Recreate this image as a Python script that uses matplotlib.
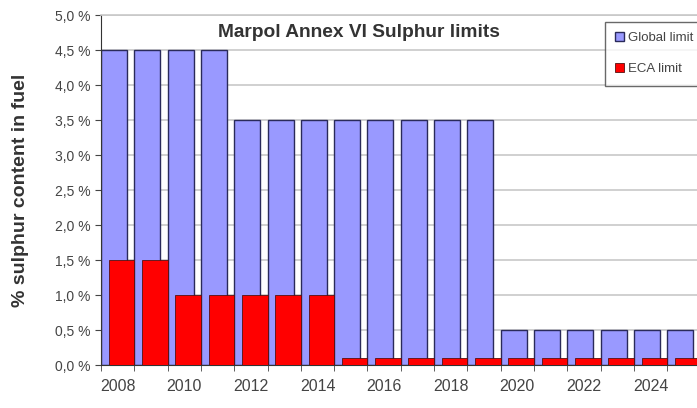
import numpy as np
import matplotlib
matplotlib.use('Agg')
import matplotlib.pyplot as plt
from matplotlib.ticker import FuncFormatter

# Datos
years = list(range(2008, 2026))
global_limit = [4.5, 4.5, 4.5, 4.5, 3.5, 3.5, 3.5, 3.5, 3.5, 3.5, 3.5, 3.5,
                0.5, 0.5, 0.5, 0.5, 0.5, 0.5]
eca_limit = [1.5, 1.5, 1.0, 1.0, 1.0, 1.0, 1.0, 0.1, 0.1, 0.1, 0.1, 0.1,
             0.1, 0.1, 0.1, 0.1, 0.1, 0.1]
tick_years = [2008, 2010, 2012, 2014, 2016, 2018, 2020, 2022, 2024]

plt.rcParams['font.family'] = ['Liberation Sans', 'DejaVu Sans']

fig = plt.figure(figsize=(6.97, 4.08), dpi=100)
ax = fig.add_axes([0.145, 0.105, 0.86, 0.858])

x = np.arange(len(years))
ax.bar(x - 0.5, global_limit, width=0.78, align='edge', color='#9999ff',
       edgecolor='#2a2a5a', linewidth=1.0, label='Global limit', zorder=2)
ax.bar(x - 0.27, eca_limit, width=0.77, align='edge', color='#ff0000',
       edgecolor='#551111', linewidth=0.6, label='ECA limit', zorder=3)

ax.set_xlim(-0.5, len(years) - 0.5)
ax.set_ylim(0, 5.0)
ax.set_yticks(np.arange(0, 5.01, 0.5))
ax.yaxis.set_major_formatter(FuncFormatter(lambda v, p: f'{v:.1f} %'.replace('.', ',')))
ax.yaxis.grid(True, color='#c8c8c8', linewidth=1.2, zorder=0)
ax.set_axisbelow(True)

ax.set_xticks([years.index(y) for y in tick_years])
ax.set_xticklabels([str(y) for y in tick_years])
ax.set_xticks(x - 0.5, minor=True)
ax.tick_params(axis='x', which='major', length=0, pad=10, labelsize=11.5, labelcolor='#444444')
ax.tick_params(axis='x', which='minor', length=4, color='#444444')
ax.tick_params(axis='y', length=4, labelsize=10, labelcolor='#444444', color='#444444')

ax.spines['right'].set_visible(False)
ax.spines['top'].set_color('#c8c8c8')
ax.spines['top'].set_linewidth(1.2)
ax.spines['left'].set_color('#333333')
ax.spines['bottom'].set_color('#333333')

ax.set_ylabel('% sulphur content in fuel', fontsize=14, fontweight='bold', color='#333333', labelpad=19)
ax.text(0.43, 0.975, 'Marpol Annex VI Sulphur limits', transform=ax.transAxes,
        ha='center', va='top', fontsize=13.8, fontweight='bold', color='#333333')

leg = ax.legend(loc='upper left', bbox_to_anchor=(0.829, 1.0), fontsize=9.5,
                frameon=True, fancybox=False, edgecolor='#444444',
                handlelength=0.7, handleheight=0.7, handletextpad=0.3,
                borderpad=0.8, labelspacing=1.4)
leg.get_frame().set_linewidth(1.0)
for t in leg.get_texts():
    t.set_color('#444444')

plt.savefig('out.png', dpi=100)
